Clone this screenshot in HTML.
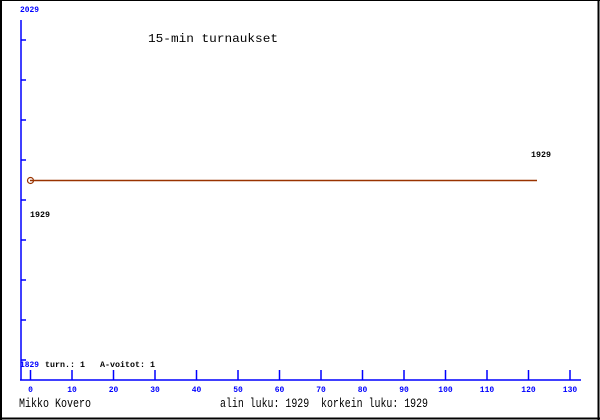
<!DOCTYPE html>
<html><head><style>body{margin:0;background:#fff}svg{display:block}text{white-space:pre}</style></head><body>
<svg width="600" height="420" xmlns="http://www.w3.org/2000/svg" font-family="Liberation Mono, monospace" xml:space="preserve">
<rect x="0" y="0" width="600" height="420" fill="#fff"/>
<line x1="1" y1="0" x2="1" y2="420" stroke="#000" stroke-width="2"/>
<line x1="0" y1="0.5" x2="600" y2="0.5" stroke="#000"/>
<line x1="598.5" y1="0" x2="598.5" y2="420" stroke="#000" stroke-width="2"/>
<line x1="0" y1="418.5" x2="600" y2="418.5" stroke="#000" stroke-width="2"/>
<g stroke="#00f" stroke-width="1.5">
<line x1="21" y1="20" x2="21" y2="380"/>
<line x1="20" y1="380" x2="581" y2="380"/>
<path d="M21 40h5M21 80h5M21 120h5M21 160h5M21 200h5M21 240h5M21 280h5M21 320h5M21 360h5"/>
<path d="M30.5 370v10M72 370v10M113.5 370v10M155 370v10M196.5 370v10M238 370v10M279.5 370v10M321 370v10M362.5 370v10M404 370v10M445.5 370v10M487 370v10M528.5 370v10M570 370v10"/>
</g>
<g fill="#00f" font-size="8" font-weight="bold" text-anchor="middle">
<text x="30.5" y="392">0</text><text x="72" y="392">10</text><text x="113.5" y="392">20</text><text x="155" y="392">30</text><text x="196.5" y="392">40</text><text x="238" y="392">50</text><text x="279.5" y="392">60</text><text x="321" y="392">70</text><text x="362.5" y="392">80</text><text x="404" y="392">90</text><text x="445.5" y="392">100</text><text x="487" y="392">110</text><text x="528.5" y="392">120</text><text x="570" y="392">130</text>
</g>
<text x="20" y="12" fill="#00f" font-size="8" font-weight="bold" textLength="19" lengthAdjust="spacingAndGlyphs">2029</text>
<text x="20" y="367" fill="#00f" font-size="8" font-weight="bold" textLength="19" lengthAdjust="spacingAndGlyphs">1829</text>
<text x="45" y="367" fill="#000" font-size="8" font-weight="bold" textLength="110" lengthAdjust="spacingAndGlyphs">turn.: 1   A-voitot: 1</text>
<text x="148" y="42" fill="#000" font-size="12" textLength="130" lengthAdjust="spacingAndGlyphs">15-min turnaukset</text>
<line x1="30" y1="180.5" x2="537" y2="180.5" stroke="#993300" stroke-width="1.5"/>
<circle cx="30.5" cy="180.5" r="3" fill="none" stroke="#993300" stroke-width="1.2"/>
<text x="30" y="217" fill="#000" font-size="8" font-weight="bold" textLength="20" lengthAdjust="spacingAndGlyphs">1929</text>
<text x="531" y="157" fill="#000" font-size="8" font-weight="bold" textLength="20" lengthAdjust="spacingAndGlyphs">1929</text>
<text x="19" y="407" fill="#000" font-size="12.5" textLength="72" lengthAdjust="spacingAndGlyphs">Mikko Kovero</text>
<text x="220" y="407" fill="#000" font-size="12.5" textLength="208" lengthAdjust="spacingAndGlyphs">alin luku: 1929  korkein luku: 1929</text>
</svg>
</body></html>
